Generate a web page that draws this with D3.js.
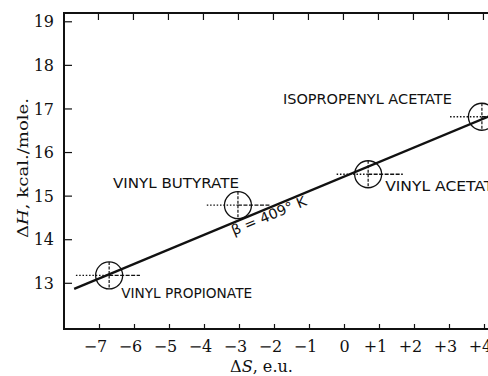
<!DOCTYPE html>
<html><head><meta charset="utf-8">
<script src="https://cdn.jsdelivr.net/npm/d3@7"></script>
<style>html,body{margin:0;padding:0;background:#fff;overflow:hidden}</style>
</head><body>
<script>
// ---- data ----
const compounds = ["VINYL PROPIONATE", "VINYL BUTYRATE", "VINYL ACETATE", "ISOPROPENYL ACETATE"];
const deltaS = [-6.71, -3.03, 0.69, 3.94];
const deltaH = [13.17, 14.78, 15.49, 16.81];
const deltaSLow = [-7.66, -3.92, -0.21, 3.03];
const deltaSHigh = [-5.83, -2.11, 1.68, 4.9];
const fitS = [-7.71, 4.2];
const fitH = [12.86, 16.84];
const xTicks = [-7, -6, -5, -4, -3, -2, -1, 0, 1, 2, 3, 4];
const yTicks = [13, 14, 15, 16, 17, 18, 19];
const betaLabel = "\u03B2 = 409\u00B0 K";

// ---- layout ----
const W = 488, H = 376;
const svg = d3.select("body").append("svg").attr("width", W).attr("height", H)
  .style("font-family", "'DejaVu Serif', serif");

const x = d3.scaleLinear().domain([-8, 4.2]).range([64, 491]);
const y = d3.scaleLinear().domain([11.94, 19.19]).range([329, 13]);

const ink = "#111";

// frame
svg.append("path")
  .attr("d", `M${W+2},${y(19.19)}H${x(-8)}V${y(11.94)}H${W+2}`)
  .attr("fill", "none").attr("stroke", ink).attr("stroke-width", 2);

// bottom axis (inward ticks)
const xAxis = d3.axisBottom(x).tickValues(xTicks).tickSize(-5).tickPadding(0)
  .tickFormat(d => d < 0 ? "\u2212" + Math.abs(d) : (d > 0 ? "+" + d : "0"));
const gx = svg.append("g").attr("transform", `translate(0,${y(11.94)})`).call(xAxis);
gx.select(".domain").remove();
gx.selectAll(".tick line").attr("stroke", ink).attr("stroke-width", 1.2);
gx.selectAll(".tick text").attr("fill", ink).attr("font-size", 16)
  .attr("font-family", "'DejaVu Serif', serif")
  .attr("dy", 0).attr("y", 23).attr("dx", d => d === 0 ? 0 : -4);

// top axis ticks
const gt = svg.append("g").attr("transform", `translate(0,${y(19.19)})`)
  .call(d3.axisTop(x).tickValues(xTicks.map(d => d - 0.03)).tickSize(-7).tickFormat(""));
gt.select(".domain").remove();
gt.selectAll(".tick line").attr("stroke", ink).attr("stroke-width", 1.2);

// left axis
const yAxis = d3.axisLeft(y).tickValues(yTicks).tickSize(-8).tickPadding(0).tickFormat(d3.format("d"));
const gy = svg.append("g").attr("transform", `translate(${x(-8)},0)`).call(yAxis);
gy.select(".domain").remove();
gy.selectAll(".tick line").attr("stroke", ink).attr("stroke-width", 1.2);
gy.selectAll(".tick text").attr("fill", ink).attr("font-size", 16)
  .attr("font-family", "'DejaVu Serif', serif")
  .attr("x", -10).attr("dy", "0.35em");

// axis titles
const yt = svg.append("text")
  .attr("transform", `translate(28,168) rotate(-90)`)
  .attr("text-anchor", "middle").attr("font-size", 15).attr("fill", ink)
  .attr("textLength", 140).attr("lengthAdjust", "spacingAndGlyphs");
yt.append("tspan").text("\u0394");
yt.append("tspan").attr("font-style", "italic").text("H");
yt.append("tspan").text(", kcal./mole.");

const xt = svg.append("text").attr("x", 261.5).attr("y", 372)
  .attr("text-anchor", "middle").attr("font-size", 16).attr("fill", ink)
  .attr("textLength", 63).attr("lengthAdjust", "spacingAndGlyphs");
xt.append("tspan").text("\u0394");
xt.append("tspan").attr("font-style", "italic").text("S");
xt.append("tspan").text(", e.u.");

// plot area clip
svg.append("clipPath").attr("id", "clip").append("rect")
  .attr("x", x(-8)).attr("y", y(19.19)).attr("width", W - x(-8)).attr("height", y(11.94) - y(19.19));
const plot = svg.append("g").attr("clip-path", "url(#clip)");

// fitted line
plot.append("line")
  .attr("x1", x(fitS[0])).attr("y1", y(fitH[0]))
  .attr("x2", x(fitS[1])).attr("y2", y(fitH[1]))
  .attr("stroke", ink).attr("stroke-width", 2.4);

// points
const pts = compounds.map((c, i) => ({ c, s: deltaS[i], h: deltaH[i], lo: deltaSLow[i], hi: deltaSHigh[i] }));
const r = 13.5;
const g = plot.selectAll("g.pt").data(pts).join("g").attr("class", "pt");
g.append("line").attr("x1", d => x(d.lo)).attr("x2", d => x(d.s))
  .attr("y1", d => y(d.h)).attr("y2", d => y(d.h))
  .attr("stroke", ink).attr("stroke-width", 1.3).attr("stroke-dasharray", "1.5,1.8");
g.append("line").attr("x1", d => x(d.s)).attr("x2", d => x(d.hi))
  .attr("y1", d => y(d.h)).attr("y2", d => y(d.h))
  .attr("stroke", ink).attr("stroke-width", 1.3).attr("stroke-dasharray", "4,1.5");
g.append("circle").attr("cx", d => x(d.s)).attr("cy", d => y(d.h)).attr("r", r)
  .attr("fill", "none").attr("stroke", ink).attr("stroke-width", 1.3);
g.append("line").attr("x1", d => x(d.s)).attr("x2", d => x(d.s))
  .attr("y1", d => y(d.h) - r).attr("y2", d => y(d.h) + r)
  .attr("stroke", ink).attr("stroke-width", 1.2).attr("stroke-dasharray", "3,1.5");

// labels
const labelCfg = {
  "VINYL PROPIONATE": { dx: 12, dy: 23, anchor: "start", len: 131 },
  "VINYL BUTYRATE": { dx: 1, dy: -17, anchor: "end", len: 126 },
  "VINYL ACETATE": { dx: 17, dy: 17, anchor: "start", len: 118 },
  "ISOPROPENYL ACETATE": { dx: -30, dy: -13, anchor: "end", len: 169 }
};
svg.selectAll("text.lbl").data(pts).join("text").attr("class", "lbl")
  .attr("x", d => x(d.s) + labelCfg[d.c].dx)
  .attr("y", d => y(d.h) + labelCfg[d.c].dy)
  .attr("text-anchor", d => labelCfg[d.c].anchor)
  .attr("textLength", d => labelCfg[d.c].len).attr("lengthAdjust", "spacingAndGlyphs")
  .attr("font-family", "'DejaVu Sans', sans-serif").attr("font-size", 13.5).attr("fill", ink)
  .text(d => d.c);

// beta label along the line
const ang = Math.atan2(y(fitH[1]) - y(fitH[0]), x(fitS[1]) - x(fitS[0])) * 180 / Math.PI;
const bS = -3.15;
const bH = fitH[0] + (bS - fitS[0]) * (fitH[1] - fitH[0]) / (fitS[1] - fitS[0]);
svg.append("text")
  .attr("transform", `translate(${x(bS)},${y(bH) + 13}) rotate(${ang})`)
  .attr("font-family", "'DejaVu Sans', sans-serif").attr("font-size", 14).attr("fill", ink)
  .attr("textLength", 80).attr("lengthAdjust", "spacingAndGlyphs")
  .text(betaLabel);
</script>
</body></html>
